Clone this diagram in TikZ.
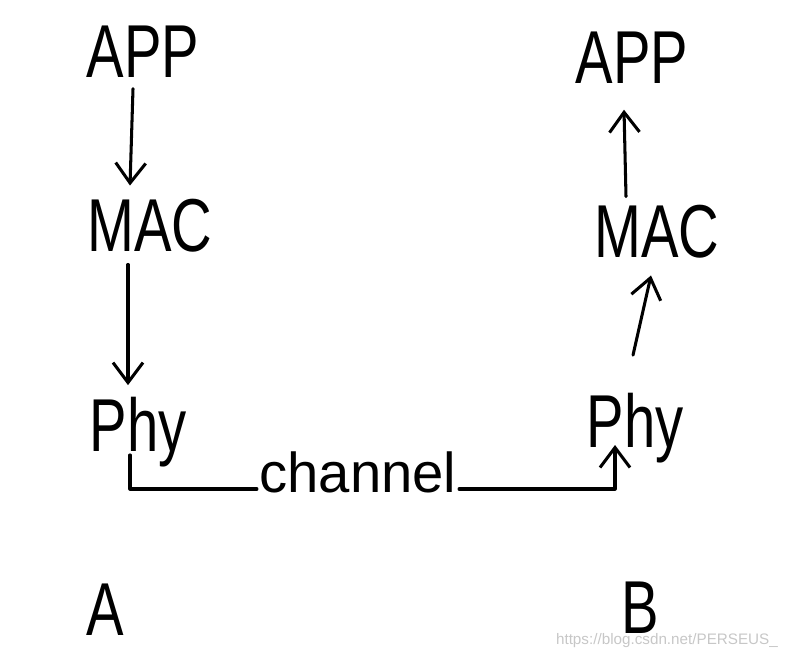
\documentclass[tikz,border=0pt]{standalone}
\usepackage{fontspec}
\setmainfont{Liberation Sans}
\usetikzlibrary{arrows.meta,calc}

\begin{document}
\begin{tikzpicture}[x=0.03cm, y=-0.03cm,
    lbl/.style={font=\fontsize{64}{64}\selectfont, xscale=0.75, transform shape, inner sep=4pt},
    word/.style={font=\fontsize{48}{48}\selectfont, inner sep=2pt},
    wire/.style={line width=2.6pt, line cap=round, line join=round},
    flow/.style={wire, -{Straight Barb[length=6mm, width=9mm, line width=2.6pt]}},
    watermark/.style={font=\fontsize{13}{13}\selectfont, text=black!22, anchor=east}]
  % 1px = 0.03cm, y axis points down
  \useasboundingbox (0,0) rectangle (791,658);

  % station A (sender)
  \node[lbl] (appA) at (143,52) {APP};
  \node[lbl] (macA) at (150,226) {MAC};
  \node[lbl] (phyA) at (138,432) {Phy};
  \node[lbl] (nameA) at (105,610) {A};

  % station B (receiver)
  \node[lbl] (appB) at (632,58) {APP};
  \node[lbl] (macB) at (657,232) {MAC};
  \node[lbl] (phyB) at (635,428) {Phy};
  \node[lbl] (nameB) at (640,608) {B};

  % channel in the middle
  \node[word] (chan) at (358,472) {channel};
  \coordinate (tapA) at (130,455);
  \coordinate (tapB) at (615,445);

  % down the stack of A
  \draw[flow] ($(appA.south)+(-10,6)$) -- ($(macA.north)+(-20,-9)$);
  \draw[flow] ($(macA.south)+(-22,7)$) -- ($(phyA.north)+(-10,-7)$);

  % A -> channel -> B
  \draw[wire] (tapA) |- (chan.mid west);
  \draw[flow] (chan.mid east) -| (tapB);

  % up the stack of B
  \draw[flow] ($(phyB.north)+(-2,-33)$) -- ($(macB.south)+(-6,12)$);
  \draw[flow] ($(macB.north)+(-31,-4)$) -- ($(appB.south)+(-8,21)$);

  \node[watermark] (site) at (782,641) {https://blog.csdn.net/PERSEUS\_};
\end{tikzpicture}
\end{document}
